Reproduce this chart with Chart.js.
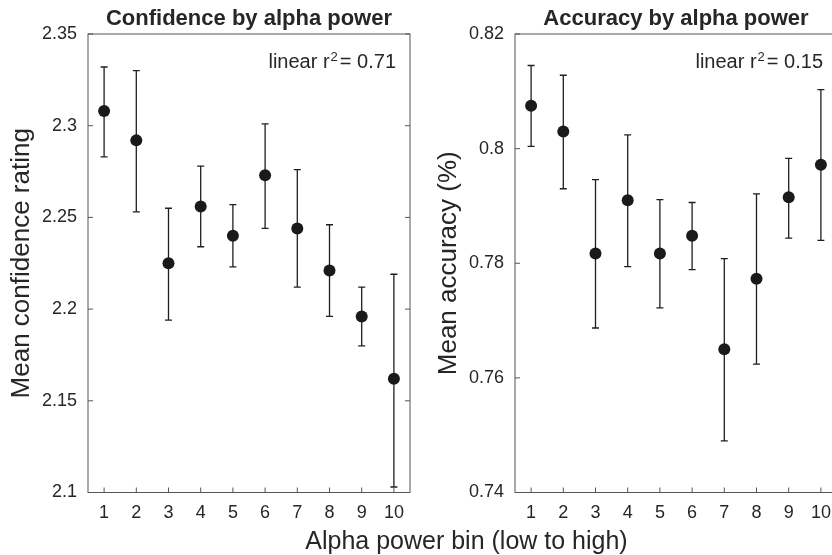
<!DOCTYPE html>
<html>
<head>
<meta charset="utf-8">
<script src="https://cdn.jsdelivr.net/npm/chart.js@4.4.1/dist/chart.umd.min.js"></script>
<style>
  html, body { margin: 0; padding: 0; background: #fff; overflow: hidden; width: 832px; height: 555px; }
  #wrap { position: relative; width: 832px; height: 555px; overflow: hidden; }
  canvas { position: absolute; top: 0; }
  #xtitle {
    position: absolute; left: 0; top: 525px; width: 933px; text-align: center;
    font: 25px "Liberation Sans", Arial, sans-serif; line-height: 30px; color: #262626;
  }
</style>
</head>
<body>
<div id="wrap">
  <canvas id="conf" width="416" height="555" style="left:0px"></canvas>
  <canvas id="acc" width="416" height="555" style="left:427px"></canvas>
  <div id="xtitle">Alpha power bin (low to high)</div>
</div>
<script>
// data
const bins = [1, 2, 3, 4, 5, 6, 7, 8, 9, 10];

const confMean = [2.308, 2.292, 2.225, 2.256, 2.240, 2.273, 2.244, 2.221, 2.196, 2.162];
const confLow  = [2.283, 2.253, 2.194, 2.234, 2.223, 2.244, 2.212, 2.196, 2.180, 2.103];
const confHigh = [2.332, 2.330, 2.255, 2.278, 2.257, 2.301, 2.276, 2.246, 2.212, 2.219];

const accMean = [0.8075, 0.8030, 0.7817, 0.7910, 0.7817, 0.7848, 0.7650, 0.7773, 0.7915, 0.7972];
const accLow  = [0.8004, 0.7930, 0.7687, 0.7794, 0.7722, 0.7789, 0.7490, 0.7624, 0.7844, 0.7840];
const accHigh = [0.8145, 0.8128, 0.7946, 0.8024, 0.7911, 0.7906, 0.7808, 0.7921, 0.7983, 0.8103];

const confTicks = [2.1, 2.15, 2.2, 2.25, 2.3, 2.35];
const accTicks = [0.74, 0.76, 0.78, 0.8, 0.82];

const FONT = '"Liberation Sans", Arial, sans-serif';
const INK = '#262626';

// error bars, box frame, inward ticks and the r^2 note
const panelPlugin = {
  id: 'panel',
  beforeDatasetsDraw(chart) {
    const ctx = chart.ctx;
    const xs = chart.scales.x, ys = chart.scales.y;
    const p = chart.options.plugins.panel;
    ctx.save();
    ctx.strokeStyle = '#1f1f1f';
    ctx.lineWidth = 1.3;
    p.low.forEach((lo, i) => {
      const x = xs.getPixelForValue(bins[i]);
      const y1 = ys.getPixelForValue(lo);
      const y2 = ys.getPixelForValue(p.high[i]);
      ctx.beginPath();
      ctx.moveTo(x, y1); ctx.lineTo(x, y2);
      ctx.moveTo(x - 3.5, y1); ctx.lineTo(x + 3.5, y1);
      ctx.moveTo(x - 3.5, y2); ctx.lineTo(x + 3.5, y2);
      ctx.stroke();
    });
    ctx.restore();
  },
  afterDraw(chart) {
    const ctx = chart.ctx;
    const a = chart.chartArea;
    const xs = chart.scales.x, ys = chart.scales.y;
    const p = chart.options.plugins.panel;
    ctx.save();
    ctx.strokeStyle = '#555';
    ctx.lineWidth = 1;
    ctx.strokeRect(a.left, a.top, a.right - a.left, a.bottom - a.top);
    ctx.beginPath();
    xs.ticks.forEach(t => {
      const x = xs.getPixelForValue(t.value);
      ctx.moveTo(x, a.bottom); ctx.lineTo(x, a.bottom - 5);
    });
    ys.ticks.forEach(t => {
      const y = ys.getPixelForValue(t.value);
      ctx.moveTo(a.left, y); ctx.lineTo(a.left + 5, y);
      ctx.moveTo(a.right, y); ctx.lineTo(a.right - 5, y);
    });
    ctx.stroke();

    // linear r² note
    ctx.fillStyle = INK;
    ctx.textBaseline = 'alphabetic';
    ctx.textAlign = 'left';
    const big = '20px ' + FONT, small = '13px ' + FONT;
    const s1 = 'linear r', s2 = '2', s3 = '= ' + p.r2;
    ctx.font = big;
    const w1 = ctx.measureText(s1).width, w3 = ctx.measureText(s3).width;
    ctx.font = small;
    const w2 = ctx.measureText(s2).width;
    const total = w1 + 1 + w2 + 2 + w3;
    let x = a.right - 14 - total;
    const base = a.top + 34;
    ctx.font = big;
    ctx.fillText(s1, x, base);
    x += w1 + 1;
    ctx.font = small;
    ctx.fillText(s2, x, base - 7);
    x += w2 + 2;
    ctx.font = big;
    ctx.fillText(s3, x, base);
    ctx.restore();
  }
};

function makePanel(id, title, yTitle, mean, low, high, yTicks, r2) {
  const ctx = document.getElementById(id).getContext('2d');
  return new Chart(ctx, {
    type: 'scatter',
    data: {
      datasets: [{
        data: bins.map((b, i) => ({ x: b, y: mean[i] })),
        backgroundColor: '#1a1a1a',
        borderColor: '#1a1a1a',
        pointRadius: 6,
        pointBorderWidth: 0,
        showLine: false
      }]
    },
    options: {
      responsive: false,
      animation: false,
      layout: { padding: 0 },
      plugins: {
        legend: { display: false },
        tooltip: { enabled: false },
        title: {
          display: true,
          text: title,
          fullSize: false,
          color: INK,
          font: { family: FONT, size: 22, weight: 'bold' },
          padding: { top: 6, bottom: 1.6 }
        },
        panel: { low: low, high: high, r2: r2 }
      },
      scales: {
        x: {
          type: 'linear',
          min: 0.5,
          max: 10.5,
          grid: { display: false, drawTicks: false },
          border: { display: false },
          afterBuildTicks: s => { s.ticks = bins.map(v => ({ value: v })); },
          afterFit: s => { s.height = 62.5; },
          ticks: {
            color: INK,
            padding: 10,
            maxRotation: 0,
            font: { family: FONT, size: 18 },
            callback: v => String(v)
          }
        },
        y: {
          min: yTicks[0],
          max: yTicks[yTicks.length - 1],
          grid: { display: false, drawTicks: false },
          border: { display: false },
          afterBuildTicks: s => { s.ticks = yTicks.map(v => ({ value: v })); },
          afterFit: s => { s.width = 88; },
          ticks: {
            color: INK,
            padding: 11,
            font: { family: FONT, size: 18 },
            callback: v => Number(v.toFixed(3)).toString()
          },
          title: {
            display: true,
            text: yTitle,
            color: INK,
            font: { family: FONT, size: 26 },
            padding: { top: 6.5, bottom: 0 }
          }
        }
      }
    },
    plugins: [panelPlugin]
  });
}

makePanel('conf', 'Confidence by alpha power', 'Mean confidence rating',
  confMean, confLow, confHigh, confTicks, '0.71');
makePanel('acc', 'Accuracy by alpha power', 'Mean accuracy (%)',
  accMean, accLow, accHigh, accTicks, '0.15');
</script>
</body>
</html>
